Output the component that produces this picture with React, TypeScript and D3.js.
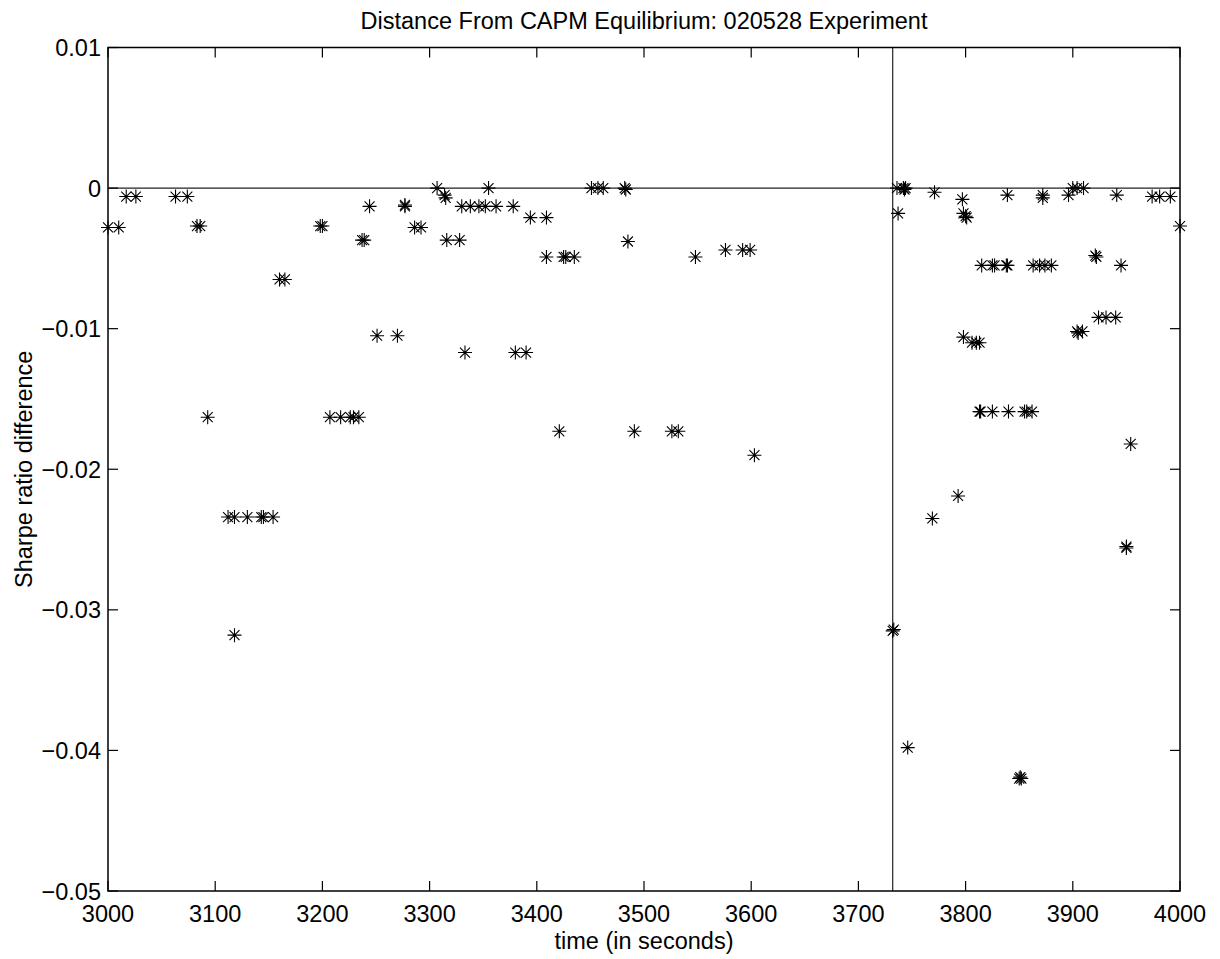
import React from "react";
import * as d3 from "d3";

const title = "Distance From CAPM Equilibrium: 020528 Experiment";
const xLabel = "time (in seconds)";
const yLabel = "Sharpe ratio difference";
const xTicks = [3000, 3100, 3200, 3300, 3400, 3500, 3600, 3700, 3800, 3900, 4000];
const yTicks = [0.01, 0, -0.01, -0.02, -0.03, -0.04, -0.05];
const yTickLabels = ["0.01", "0", "\u22120.01", "\u22120.02", "\u22120.03", "\u22120.04", "\u22120.05"];
const equilibriumTime = 3732;

const times = [
  3000, 3010, 3017, 3026, 3063, 3074, 3083, 3086, 3093, 3112, 3118, 3130, 3143, 3145, 3154, 3118,
  3160, 3165, 3198, 3200, 3207, 3217, 3226, 3229, 3234, 3237, 3239, 3244, 3251, 3270, 3277, 3277,
  3286, 3292, 3307, 3314, 3315, 3316, 3328, 3330, 3333, 3338, 3346, 3352, 3355, 3362, 3378, 3380,
  3390, 3394, 3409, 3409, 3421, 3425, 3427, 3435, 3451, 3457, 3462, 3482, 3483, 3485, 3491, 3526,
  3532, 3548, 3576, 3592, 3599, 3603,
  3732, 3733, 3736, 3737, 3742, 3743, 3744, 3746, 3769, 3771, 3793, 3797, 3798, 3798, 3800, 3801,
  3806, 3810, 3813, 3813, 3814, 3815, 3825, 3825, 3827, 3838, 3839, 3839, 3840, 3850, 3851, 3852,
  3855, 3857, 3862, 3863, 3869, 3872, 3872, 3874, 3880, 3896, 3900, 3904, 3904, 3905, 3909, 3910,
  3921, 3922, 3924, 3931, 3940, 3941, 3945, 3950, 3950, 3954, 3974, 3981, 3991, 4000,
];

const sharpeDiff = [
  -0.0028, -0.0028, -0.0006, -0.0006, -0.0006, -0.0006, -0.0027, -0.0027, -0.0163, -0.0234, -0.0234, -0.0234, -0.0234, -0.0234, -0.0234, -0.0318,
  -0.0065, -0.0065, -0.0027, -0.0027, -0.0163, -0.0163, -0.0163, -0.0163, -0.0163, -0.0037, -0.0037, -0.0013, -0.0105, -0.0105, -0.0013, -0.0012,
  -0.0028, -0.0028, 0.0, -0.0005, -0.0007, -0.0037, -0.0037, -0.0013, -0.0117, -0.0013, -0.0013, -0.0013, 0.0, -0.0013, -0.0013, -0.0117,
  -0.0117, -0.0021, -0.0021, -0.0049, -0.0173, -0.0049, -0.0049, -0.0049, 0.0, 0.0, 0.0, 0.0, -0.0001, -0.0038, -0.0173, -0.0173,
  -0.0173, -0.0049, -0.0044, -0.0044, -0.0044, -0.019,
  -0.0315, -0.0314, 0.0, -0.0018, 0.0, -0.0001, 0.0, -0.0398, -0.0235, -0.0003, -0.0219, -0.0008, -0.0106, -0.0018, -0.002, -0.0021,
  -0.011, -0.011, -0.011, -0.0159, -0.0159, -0.0055, -0.0159, -0.0055, -0.0055, -0.0055, -0.0055, -0.0005, -0.0159, -0.042, -0.0419, -0.042,
  -0.0159, -0.0159, -0.0159, -0.0055, -0.0055, -0.0005, -0.0007, -0.0055, -0.0055, -0.0005, 0.0, 0.0, -0.0102, -0.0103, -0.0102, 0.0,
  -0.0048, -0.0049, -0.0092, -0.0092, -0.0092, -0.0005, -0.0055, -0.0256, -0.0255, -0.0182, -0.0006, -0.0006, -0.0006, -0.0027,
];

const W = 1220;
const H = 959;
const left = 108;
const right = 1180;
const top = 47.5;
const bottom = 891;
const font = "'Liberation Sans', Arial, Helvetica, sans-serif";

export default function App() {
  const x = d3.scaleLinear().domain([3000, 4000]).range([left, right]);
  const y = d3.scaleLinear().domain([-0.05, 0.01]).range([bottom, top]);
  const arm = 7;
  const diag = 5;
  const star = `M${-arm},0H${arm}M0,${-arm}V${arm}M${-diag},${-diag}L${diag},${diag}M${-diag},${diag}L${diag},${-diag}`;
  const tickLen = 10;
  const fs = 23.5;

  return (
    <svg width={W} height={H} style={{ position: "absolute", left: 0, top: 0, background: "#fff" }} fontFamily={font}>
      <rect x={0} y={0} width={W} height={H} fill="#fff" />
      <line x1={left} x2={right} y1={y(0)} y2={y(0)} stroke="#222" strokeWidth={1.2} />
      <line x1={x(equilibriumTime)} x2={x(equilibriumTime)} y1={top} y2={bottom} stroke="#222" strokeWidth={1.2} />
      <g stroke="#000" strokeWidth={1.1} fill="none">
        {times.map((t, i) => (
          <path key={i} d={star} transform={`translate(${x(t)},${y(sharpeDiff[i])})`} />
        ))}
      </g>
      <rect x={left} y={top} width={right - left} height={bottom - top} fill="none" stroke="#000" strokeWidth={1.5} />
      <g stroke="#000" strokeWidth={1.2}>
        {xTicks.map((t) => (
          <g key={t}>
            <line x1={x(t)} x2={x(t)} y1={bottom} y2={bottom - tickLen} />
            <line x1={x(t)} x2={x(t)} y1={top} y2={top + tickLen} />
          </g>
        ))}
        {yTicks.map((t) => (
          <g key={t}>
            <line x1={left} x2={left + tickLen} y1={y(t)} y2={y(t)} />
            <line x1={right} x2={right - tickLen} y1={y(t)} y2={y(t)} />
          </g>
        ))}
      </g>
      <g fontSize={fs} fill="#000">
        {xTicks.map((t) => (
          <text key={t} x={x(t)} y={bottom + 31} textAnchor="middle">
            {t}
          </text>
        ))}
        {yTicks.map((t, i) => (
          <text key={t} x={left - 7} y={y(t) + 8.5} textAnchor="end">
            {yTickLabels[i]}
          </text>
        ))}
      </g>
      <text x={(left + right) / 2} y={29} textAnchor="middle" fontSize={fs}>
        {title}
      </text>
      <text x={(left + right) / 2} y={949} textAnchor="middle" fontSize={fs}>
        {xLabel}
      </text>
      <text transform={`translate(32,${(top + bottom) / 2}) rotate(-90)`} textAnchor="middle" fontSize={fs}>
        {yLabel}
      </text>
    </svg>
  );
}
